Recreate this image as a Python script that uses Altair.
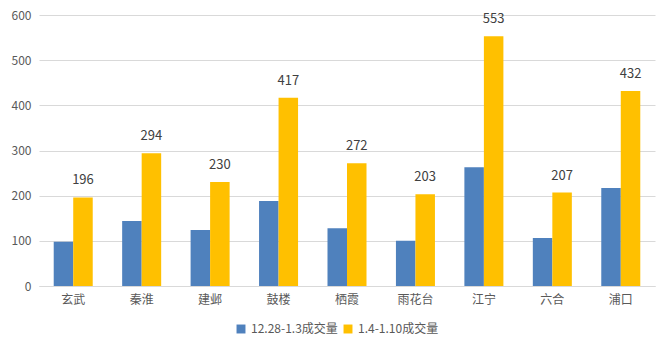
import altair as alt
import pandas as pd

districts = ["玄武", "秦淮", "建邺", "鼓楼", "栖霞", "雨花台", "江宁", "六合", "浦口"]
series_a_name = "12.28-1.3成交量"
series_b_name = "1.4-1.10成交量"
series_a = [98, 144, 124, 188, 128, 100, 263, 106, 217]
series_b = [196, 294, 230, 417, 272, 203, 553, 207, 432]

rows = []
for d, a, b in zip(districts, series_a, series_b):
    rows.append({"district": d, "series": series_a_name, "value": a, "label": ""})
    rows.append({"district": d, "series": series_b_name, "value": b, "label": str(b)})
df = pd.DataFrame(rows)

FONT = "Noto Sans CJK SC"
x = alt.X("district:N", sort=districts, title=None,
          scale=alt.Scale(paddingInner=0.43, paddingOuter=0.215),
          axis=alt.Axis(labelAngle=0, ticks=False, domainColor="#D9D9D9",
                        labelColor="#595959", labelFontSize=12, labelPadding=8,
                        labelFont=FONT))
xoff = alt.XOffset("series:N", sort=[series_a_name, series_b_name])

bars = alt.Chart(df).mark_bar().encode(
    x=x,
    xOffset=xoff,
    y=alt.Y("value:Q", title=None,
            scale=alt.Scale(domain=[0, 600]),
            axis=alt.Axis(values=[0, 100, 200, 300, 400, 500, 600], domain=False, ticks=False,
                          gridColor="#D9D9D9", labelColor="#595959", labelFontSize=12,
                          labelPadding=8, labelFont=FONT)),
    color=alt.Color("series:N", sort=[series_a_name, series_b_name],
                    scale=alt.Scale(domain=[series_a_name, series_b_name],
                                    range=["#4F81BD", "#FFC000"]),
                    legend=alt.Legend(title=None, orient="none", direction="horizontal",
                                      legendX=196, legendY=308, symbolType="square",
                                      symbolSize=80, labelFontSize=12, labelColor="#595959",
                                      labelFont=FONT, columnPadding=4, symbolStrokeWidth=0)),
)

labels = alt.Chart(df).mark_text(dy=-10, baseline="bottom", fontSize=13,
                                 color="#404040", font=FONT).encode(
    x=x,
    xOffset=xoff,
    y="value:Q",
    text="label:N",
)

chart = alt.layer(bars, labels).properties(
    width=616, height=271,
    autosize=alt.AutoSizeParams(type="none"),
    padding={"left": 39, "top": 15, "right": 14, "bottom": 65},
).configure_view(stroke=None).configure_axis(grid=True).configure_axisX(grid=False)

chart.save("out.html", embed_options={"renderer": "svg", "actions": False})
